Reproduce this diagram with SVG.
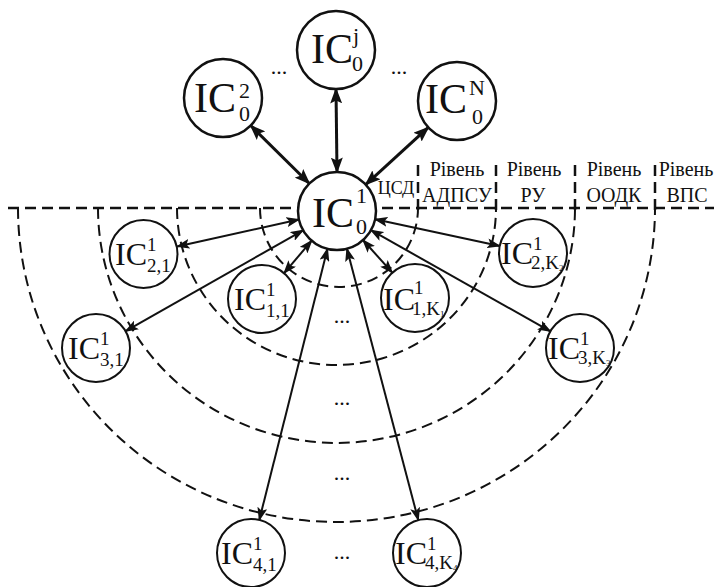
<svg xmlns="http://www.w3.org/2000/svg" width="714" height="587" viewBox="0 0 714 587" font-family="'Liberation Serif', 'DejaVu Serif', serif">
  <style>
    .node { fill: #ffffff; stroke: #111111; }
    .big { stroke-width: 2.5; }
    .small { stroke-width: 2; }
    text { font-family: 'Liberation Serif', 'DejaVu Serif', serif; fill: #111111; }
    .icb { font-size: 42px; }
    .sb { font-size: 22px; }
    .ics { font-size: 32px; }
    .ss { font-size: 19px; }
    .kk { font-size: 9px; }
    .lbl { font-size: 20px; text-anchor: middle; }
    .hub { font-size: 18px; text-anchor: middle; }
    .dots { font-size: 22px; text-anchor: middle; }
    .axis { fill: none; stroke: #111111; stroke-width: 2.5; stroke-dasharray: 11 6; }
    .ring { fill: none; stroke: #111111; stroke-width: 2; stroke-dasharray: 11 6; }
    .thick { stroke: #111111; stroke-width: 3; fill: none; marker-start: url(#headL); marker-end: url(#headL); }
    .thin { stroke: #111111; stroke-width: 2; fill: none; marker-start: url(#headS); marker-end: url(#headS); }
  </style>
  <defs>
    <marker id="headL" viewBox="0 0 16 12" refX="14.5" refY="6" markerWidth="16" markerHeight="12" markerUnits="userSpaceOnUse" orient="auto-start-reverse">
      <path d="M0,0 L16,6 L0,12 L3,6 z" fill="#111111"/>
    </marker>
    <marker id="headS" viewBox="0 0 14 10" refX="12.5" refY="5" markerWidth="14" markerHeight="10" markerUnits="userSpaceOnUse" orient="auto-start-reverse">
      <path d="M0,0 L14,5 L0,10 L3,5 z" fill="#111111"/>
    </marker>
  </defs>
  <rect width="714" height="587" fill="#ffffff"/>

  <!-- level boundaries: baseline, concentric half-rings and column separators -->
  <g id="levels">
    <line class="axis" x1="8" y1="208" x2="714" y2="208"/>
    <path class="ring" d="M260,208 A79,79 0 0 0 418,208"/>
    <path class="ring" d="M177,208 A159.5,157 0 0 0 496,208"/>
    <path class="ring" d="M98,208 A238.5,235 0 0 0 575,208"/>
    <path class="ring" d="M18,208 A318.5,314 0 0 0 655,208"/>
    <line class="axis" x1="418" y1="165" x2="418" y2="210"/>
    <line class="axis" x1="496" y1="165" x2="496" y2="210"/>
    <line class="axis" x1="575" y1="165" x2="575" y2="210"/>
    <line class="axis" x1="655" y1="165" x2="655" y2="210"/>
  </g>

  <!-- links from the central node -->
  <g id="connectors">
    <line class="thick" x1="337" y1="172" x2="336" y2="89"/>
    <line class="thick" x1="309.3" y1="183.5" x2="250.7" y2="125.5"/>
    <line class="thick" x1="365.7" y1="184.6" x2="428.3" y2="127.4"/>
    <line class="thin" x1="298.9" y1="219.5" x2="177.2" y2="246.5"/>
    <line class="thin" x1="303.1" y1="230.3" x2="125.6" y2="331.2"/>
    <line class="thin" x1="311.7" y1="240.7" x2="284.1" y2="273.1"/>
    <line class="thin" x1="327.5" y1="248.8" x2="259.3" y2="520"/>
    <line class="thin" x1="346.9" y1="248.7" x2="418.3" y2="520.1"/>
    <line class="thin" x1="363" y1="240" x2="392.3" y2="272.7"/>
    <line class="thin" x1="375.1" y1="219.2" x2="499.7" y2="245.9"/>
    <line class="thin" x1="371" y1="230.2" x2="550.4" y2="331.3"/>
  </g>

  <!-- top-level nodes -->
  <g id="ic0-j">
    <circle class="node big" cx="336" cy="50" r="39"/>
    <text class="icb" x="311" y="63">IC</text>
    <text class="sb" x="353" y="43">j</text>
    <text class="sb" x="352" y="71">0</text>
  </g>
  <g id="ic0-2">
    <circle class="node big" cx="223" cy="98" r="39"/>
    <text class="icb" x="194" y="112">IC</text>
    <text class="sb" x="239" y="98">2</text>
    <text class="sb" x="239" y="121">0</text>
  </g>
  <g id="ic0-n">
    <circle class="node big" cx="457" cy="101" r="39"/>
    <text class="icb" x="425" y="113">IC</text>
    <text class="sb" x="469" y="95">N</text>
    <text class="sb" x="472" y="124">0</text>
  </g>
  <g id="ic0-1">
    <circle class="node big" cx="337" cy="211" r="39"/>
    <text class="icb" x="312" y="227">IC</text>
    <text class="sb" x="356" y="203">1</text>
    <text class="sb" x="356" y="234">0</text>
  </g>

  <!-- lower-level nodes -->
  <g id="ic-1-1">
    <circle class="node small" cx="262" cy="299" r="34"/>
    <text class="ics" x="234" y="310">IC</text>
    <text class="ss" x="266" y="296">1</text>
    <text class="ss" x="266" y="317">1,1</text>
  </g>
  <g id="ic-1-k1">
    <circle class="node small" cx="415" cy="298" r="34"/>
    <text class="ics" x="383" y="310">IC</text>
    <text class="ss" x="414" y="294">1</text>
    <text class="ss" x="412" y="315">1,K<tspan class="kk" dy="2">1</tspan></text>
  </g>
  <g id="ic-2-1">
    <circle class="node small" cx="143.5" cy="254" r="34"/>
    <text class="ics" x="115" y="265">IC</text>
    <text class="ss" x="147" y="251">1</text>
    <text class="ss" x="147" y="272">2,1</text>
  </g>
  <g id="ic-2-k2">
    <circle class="node small" cx="533" cy="253" r="34"/>
    <text class="ics" x="501" y="264">IC</text>
    <text class="ss" x="533" y="250">1</text>
    <text class="ss" x="531" y="269">2,K<tspan class="kk" dy="2">2</tspan></text>
  </g>
  <g id="ic-3-1">
    <circle class="node small" cx="96" cy="348" r="34"/>
    <text class="ics" x="68" y="359">IC</text>
    <text class="ss" x="100" y="345">1</text>
    <text class="ss" x="100" y="366">3,1</text>
  </g>
  <g id="ic-3-k3">
    <circle class="node small" cx="580" cy="348" r="34"/>
    <text class="ics" x="548" y="359">IC</text>
    <text class="ss" x="580" y="345">1</text>
    <text class="ss" x="578" y="364">3,K<tspan class="kk" dy="2">3</tspan></text>
  </g>
  <g id="ic-4-1">
    <circle class="node small" cx="251" cy="553" r="34"/>
    <text class="ics" x="221" y="564">IC</text>
    <text class="ss" x="253" y="550">1</text>
    <text class="ss" x="253" y="571">4,1</text>
  </g>
  <g id="ic-4-k4">
    <circle class="node small" cx="427" cy="553" r="34"/>
    <text class="ics" x="395" y="564">IC</text>
    <text class="ss" x="427" y="550">1</text>
    <text class="ss" x="425" y="569">4,K<tspan class="kk" dy="2">4</tspan></text>
  </g>

  <!-- ellipses marking omitted nodes -->
  <g id="gaps">
    <text class="dots" x="279" y="74">...</text>
    <text class="dots" x="399" y="74">...</text>
    <text class="dots" x="342" y="323">...</text>
    <text class="dots" x="342" y="405">...</text>
    <text class="dots" x="342" y="480">...</text>
    <text class="dots" x="342" y="559">...</text>
  </g>

  <!-- level captions -->
  <g id="captions">
    <text class="hub" x="396" y="194">ЦСД</text>
    <text class="lbl" x="457" y="176">Рівень</text>
    <text class="lbl" x="457" y="202">АДПСУ</text>
    <text class="lbl" x="534" y="176">Рівень</text>
    <text class="lbl" x="533" y="202">РУ</text>
    <text class="lbl" x="614" y="176">Рівень</text>
    <text class="lbl" x="614" y="202">ООДК</text>
    <text class="lbl" x="686" y="176">Рівень</text>
    <text class="lbl" x="687" y="202">ВПС</text>
  </g>
</svg>
